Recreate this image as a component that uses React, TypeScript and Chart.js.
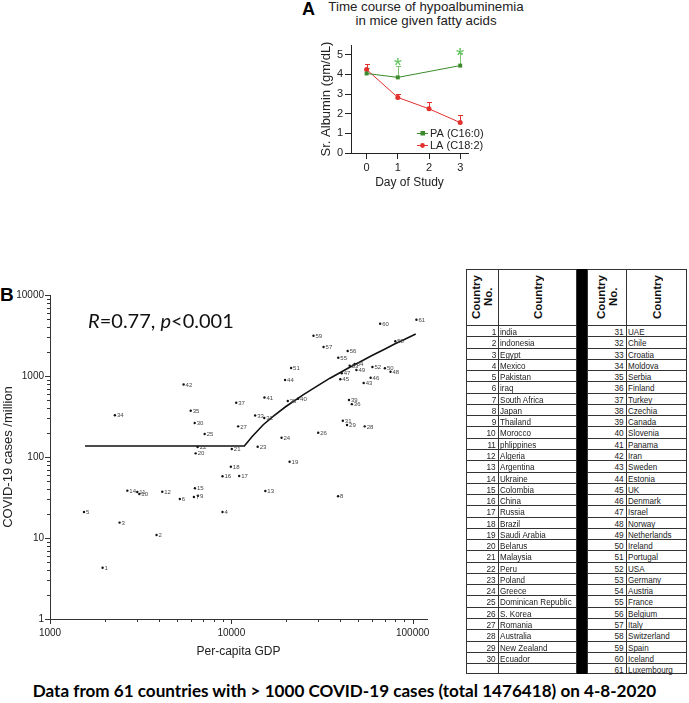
import React, { useEffect, useRef } from 'react';
import { Chart, registerables } from 'chart.js';

Chart.register(...registerables);

const SANS = "'Liberation Sans', Arial, Helvetica, sans-serif";
const CAL = "Lato, 'Open Sans', sans-serif";

// ---------- Panel A data ----------
const seriesNames = ['PA (C16:0)', 'LA (C18:2)'];
const paDays = [0, 1, 3];
const paAlbumin = [4.05, 3.85, 4.45];
const paUpper = [4.35, 4.44, 5.1];
const laDays = [0, 1, 2, 3];
const laAlbumin = [4.25, 2.83, 2.25, 1.55];
const laUpper = [4.55, 3.02, 2.58, 1.93];
const starDays = [1, 3];
const starLevels = [4.75, 5.24];
const dayTicks = [0, 1, 2, 3];
const albuminTicks = [0, 1, 2, 3, 4, 5];

// ---------- Panel B data ----------
const countryNames = [
  'india', 'indonesia', 'Egypt', 'Mexico', 'Pakistan', 'iraq', 'South Africa', 'Japan', 'Thailand', 'Morocco',
  'phlippines', 'Algeria', 'Argentina', 'Ukraine', 'Colombia', 'China', 'Russia', 'Brazil', 'Saudi Arabia', 'Belarus',
  'Malaysia', 'Peru', 'Poland', 'Greece', 'Dominican Republic', 'S. Korea', 'Romania', 'Australia', 'New Zealand', 'Ecuador',
  'UAE', 'Chile', 'Croatia', 'Moldova', 'Serbia', 'Finland', 'Turkey', 'Czechia', 'Canada', 'Slovenia',
  'Panama', 'Iran', 'Sweden', 'Estonia', 'UK', 'Denmark', 'Israel', 'Norway', 'Netherlands', 'Ireland',
  'Portugal', 'USA', 'Germany', 'Austria', 'France', 'Belgium', 'Italy', 'Switzerland', 'Spain', 'Iceland',
  'Luxembourg',
];
const gdpPerCapita = [
  1950, 3870, 2420, 8940, 1540, 5200, 6220, 38800, 6550, 3110,
  3030, 4160, 15400, 2670, 6300, 8940, 11050, 9940, 20960, 6360,
  10060, 6520, 13970, 18920, 7130, 30150, 10910, 54430, 43470, 6280,
  41210, 15200, 13530, 2280, 5970, 46200, 10640, 20480, 44570, 23350,
  15230, 5455, 53700, 19790, 39900, 58650, 40650, 75500, 48960, 70300,
  21370, 60000, 44960, 47900, 38900, 43820, 32260, 80200, 28390, 66220,
  104900,
];
const casesPerMillion = [
  4.3, 10.9, 15.5, 20.9, 20.9, 30.3, 32.1, 32.7, 33.3, 34.9,
  37, 37.3, 38, 38.4, 41.1, 57.8, 58.3, 75.9, 87.5, 111,
  125.6, 132.9, 134, 172.6, 192, 199.5, 239, 239, 248, 263,
  280, 303, 325, 327, 373, 449, 467, 491, 505, 524,
  543, 785, 820, 893, 911, 950, 1080, 1127, 1187, 1245,
  1256, 1291, 1341, 1406, 1682, 2035, 2280, 2682, 3146, 4424,
  4956,
];
const fitGdp = [1560, 11800, 13000, 15000, 17000, 20000, 25000, 30000, 35000, 45000, 50000, 60000, 70000, 80000, 90000, 104000];
const fitCases = [137, 137, 178, 250, 318, 420, 590, 760, 940, 1280, 1450, 1800, 2140, 2500, 2820, 3300];
const xMajorTicks = [1000, 10000, 100000];
const yMajorTicks = [1, 10, 100, 1000, 10000];
const statText = { r: '0.77', p: '0.001' };
const caption = 'Data from 61 countries with > 1000 COVID-19 cases (total 1476418) on 4-8-2020';

const GREEN = '#3b8a2c';
const GREEN_LIGHT = '#7dc070';
const STAR = '#5ec15a';
const RED = '#e2302c';
const AXIS = '#222';

// ---------- Panel A plugin ----------
const panelAExtras = {
  id: 'panelAExtras',
  beforeDatasetsDraw(chart: any) {
    const { ctx } = chart;
    const xs = chart.scales.x, ys = chart.scales.y;
    const draw = (days: number[], vals: number[], ups: number[], color: string) => {
      ctx.strokeStyle = color;
      ctx.lineWidth = 1;
      days.forEach((d, i) => {
        const px = Math.round(xs.getPixelForValue(d)) + 0.5;
        const p0 = ys.getPixelForValue(vals[i]);
        const p1 = Math.round(ys.getPixelForValue(ups[i])) + 0.5;
        ctx.beginPath();
        ctx.moveTo(px, p0);
        ctx.lineTo(px, p1);
        ctx.moveTo(px - 2.5, p1);
        ctx.lineTo(px + 2.5, p1);
        ctx.stroke();
      });
    };
    ctx.save();
    draw(paDays, paAlbumin, paUpper, GREEN_LIGHT);
    draw(laDays, laAlbumin, laUpper, RED);
    ctx.restore();
  },
  afterDatasetsDraw(chart: any) {
    const { ctx } = chart;
    const xs = chart.scales.x, ys = chart.scales.y;
    ctx.save();
    ctx.fillStyle = STAR;
    ctx.font = `21px ${SANS}`;
    ctx.textAlign = 'center';
    ctx.textBaseline = 'alphabetic';
    starDays.forEach((d, i) => {
      ctx.fillText('*', xs.getPixelForValue(d), ys.getPixelForValue(starLevels[i]) + 12);
    });
    // legend
    const rows = [
      { name: seriesNames[0], color: GREEN, rect: true, y: 133 },
      { name: seriesNames[1], color: RED, rect: false, y: 145 },
    ];
    ctx.font = `11px ${SANS}`;
    ctx.textAlign = 'left';
    ctx.textBaseline = 'middle';
    rows.forEach((r) => {
      const x0 = 117;
      ctx.strokeStyle = r.color;
      ctx.lineWidth = 1;
      ctx.beginPath();
      ctx.moveTo(x0, r.y + 0.5);
      ctx.lineTo(x0 + 11, r.y + 0.5);
      ctx.stroke();
      ctx.fillStyle = r.color;
      if (r.rect) ctx.fillRect(x0 + 3.5, r.y - 2, 4.5, 4.5);
      else {
        ctx.beginPath();
        ctx.arc(x0 + 5.5, r.y + 0.5, 2.4, 0, Math.PI * 2);
        ctx.fill();
      }
      ctx.fillStyle = '#222';
      ctx.fillText(r.name, x0 + 13, r.y + 1);
    });
    ctx.restore();
  },
};

// ---------- Panel B plugin ----------
const panelBExtras = {
  id: 'panelBExtras',
  afterDatasetsDraw(chart: any) {
    const { ctx } = chart;
    const meta = chart.getDatasetMeta(0);
    ctx.save();
    ctx.font = `6px ${SANS}`;
    ctx.fillStyle = '#444';
    ctx.textAlign = 'left';
    ctx.textBaseline = 'middle';
    meta.data.forEach((pt: any, i: number) => {
      ctx.fillText(String(i + 1), pt.x + 2, pt.y + 0.5);
    });
    ctx.restore();
  },
  afterDraw(chart: any) {
    const { ctx, chartArea: a } = chart;
    const xs = chart.scales.x, ys = chart.scales.y;
    ctx.save();
    ctx.strokeStyle = '#333';
    ctx.lineWidth = 1;
    ctx.beginPath();
    yMajorTicks.forEach((d, k) => {
      const py = Math.round(ys.getPixelForValue(d)) + 0.5;
      ctx.moveTo(a.left - 5, py);
      ctx.lineTo(a.left, py);
      if (k < yMajorTicks.length - 1) {
        for (let m = 2; m <= 9; m++) {
          const p = Math.round(ys.getPixelForValue(m * d)) + 0.5;
          ctx.moveTo(a.left - 3, p);
          ctx.lineTo(a.left, p);
        }
      }
    });
    xMajorTicks.forEach((d, k) => {
      const px = Math.round(xs.getPixelForValue(d)) + 0.5;
      ctx.moveTo(px, a.bottom);
      ctx.lineTo(px, a.bottom + 5);
      if (k < xMajorTicks.length - 1) {
        for (let m = 2; m <= 9; m++) {
          const p = Math.round(xs.getPixelForValue(m * d)) + 0.5;
          ctx.moveTo(p, a.bottom);
          ctx.lineTo(p, a.bottom + 3);
        }
      }
    });
    ctx.stroke();
    ctx.restore();
  },
};

function PanelA() {
  const ref = useRef<HTMLCanvasElement>(null);
  useEffect(() => {
    const chart = new Chart(ref.current as HTMLCanvasElement, {
      type: 'scatter',
      data: {
        datasets: [
          {
            label: seriesNames[0],
            data: paDays.map((d, i) => ({ x: d, y: paAlbumin[i] })),
            showLine: true,
            borderColor: GREEN,
            backgroundColor: GREEN,
            borderWidth: 1,
            pointStyle: 'rect',
            pointRadius: 2.8,
            pointBorderWidth: 0,
          },
          {
            label: seriesNames[1],
            data: laDays.map((d, i) => ({ x: d, y: laAlbumin[i] })),
            showLine: true,
            borderColor: RED,
            backgroundColor: RED,
            borderWidth: 1,
            pointStyle: 'circle',
            pointRadius: 2.5,
            pointBorderWidth: 0,
          },
        ],
      } as any,
      options: {
        animation: false,
        responsive: false,
        devicePixelRatio: 1,
        layout: { padding: { top: 45, right: 32, left: 0, bottom: 0 } },
        plugins: { legend: { display: false }, tooltip: { enabled: false } },
        scales: {
          x: {
            type: 'linear',
            min: -0.5,
            max: 3.25,
            afterBuildTicks: (s: any) => { s.ticks = dayTicks.map((v) => ({ value: v })); },
            afterFit: (s: any) => { s.height = 42; },
            grid: { display: true, drawOnChartArea: false, drawTicks: true, tickLength: 6, color: AXIS },
            border: { color: AXIS, width: 1 },
            ticks: { font: { size: 11, family: SANS }, color: '#222', padding: 2, maxRotation: 0 },
            title: { display: true, text: 'Day of Study', font: { size: 12, family: SANS }, color: '#222', padding: { top: 0, bottom: 5 } },
          },
          y: {
            type: 'linear',
            min: 0,
            max: 5.5,
            afterBuildTicks: (s: any) => { s.ticks = albuminTicks.map((v) => ({ value: v })); },
            afterFit: (s: any) => { s.width = 51; },
            grid: { display: true, drawOnChartArea: false, drawTicks: true, tickLength: 6, color: AXIS },
            border: { color: AXIS, width: 1 },
            ticks: { font: { size: 11, family: SANS }, color: '#222', padding: 2 },
            title: { display: true, text: 'Sr. Albumin (gm/dL)', font: { size: 13, family: SANS }, color: '#222', padding: { top: 19, bottom: 0 } },
          },
        },
      } as any,
      plugins: [panelAExtras],
    });
    return () => chart.destroy();
  }, []);
  return (
    <canvas ref={ref} width={200} height={195}
      style={{ position: 'absolute', left: 300, top: 0, width: 200, height: 195 }} />
  );
}

function PanelB() {
  const ref = useRef<HTMLCanvasElement>(null);
  useEffect(() => {
    const chart = new Chart(ref.current as HTMLCanvasElement, {
      type: 'scatter',
      data: {
        datasets: [
          {
            data: gdpPerCapita.map((g, i) => ({ x: g, y: casesPerMillion[i] })),
            pointRadius: 1.2,
            pointBorderWidth: 0,
            backgroundColor: '#111',
            borderColor: '#111',
          },
          {
            data: fitGdp.map((g, i) => ({ x: g, y: fitCases[i] })),
            showLine: true,
            pointRadius: 0,
            borderColor: '#111',
            borderWidth: 1.6,
            fill: false,
          },
        ],
      } as any,
      options: {
        animation: false,
        responsive: false,
        devicePixelRatio: 1,
        layout: { padding: { top: 15, right: 13, left: 0, bottom: 0 } },
        plugins: { legend: { display: false }, tooltip: { enabled: false } },
        scales: {
          x: {
            type: 'logarithmic',
            min: 1000,
            max: 120000,
            afterBuildTicks: (s: any) => { s.ticks = xMajorTicks.map((v) => ({ value: v })); },
            afterFit: (s: any) => { s.height = 51; },
            grid: { display: false, drawTicks: false },
            border: { display: true, color: '#333', width: 1 },
            ticks: { font: { size: 10, family: SANS }, color: '#222', padding: 8, maxRotation: 0, callback: (v: any) => String(v) },
            title: { display: true, text: 'Per-capita GDP', font: { size: 12, family: SANS }, color: '#222', padding: { top: 0, bottom: 11 } },
          },
          y: {
            type: 'logarithmic',
            min: 1,
            max: 10000,
            afterBuildTicks: (s: any) => { s.ticks = yMajorTicks.map((v) => ({ value: v })); },
            afterFit: (s: any) => { s.width = 50; },
            grid: { display: false, drawTicks: false },
            border: { display: true, color: '#333', width: 1 },
            ticks: { font: { size: 10, family: SANS }, color: '#222', padding: 6, callback: (v: any) => String(v) },
            title: { display: true, text: 'COVID-19 cases /million', font: { size: 13, family: SANS }, color: '#222', padding: { top: 1, bottom: 0 } },
          },
        },
      } as any,
      plugins: [panelBExtras],
    });
    return () => chart.destroy();
  }, []);
  return (
    <canvas ref={ref} width={440} height={390}
      style={{ position: 'absolute', left: 0, top: 280, width: 440, height: 390 }} />
  );
}

function CountryTable() {
  const top = 269;
  const left = 466;
  const headH = 56;
  const rowH = 11.27;
  const nRows = 31;
  const totalH = headH + nRows * rowH;
  const halves = [
    { x: 0, wNo: 32, wName: 79, start: 0, count: 30 },
    { x: 121, wNo: 39, wName: 61, start: 30, count: 31 },
  ];
  const line = '#333';
  const cellText = { fontSize: 9.6, fontFamily: SANS, color: '#222' };
  const els: any[] = [];
  halves.forEach((h, hi) => {
    const w = h.wNo + h.wName;
    els.push(<div key={`box${hi}`} style={{ position: 'absolute', left: h.x, top: 0, width: w, height: totalH, border: `1px solid ${line}`, boxSizing: 'border-box' }} />);
    els.push(<div key={`vd${hi}`} style={{ position: 'absolute', left: h.x + h.wNo, top: 0, width: 1, height: totalH, background: line }} />);
    for (let k = 0; k < nRows; k++) {
      const y = Math.round(headH + k * rowH);
      els.push(<div key={`hl${hi}-${k}`} style={{ position: 'absolute', left: h.x, top: y, width: w, height: 1, background: line }} />);
    }
    const hdr = (key: string, x: number, wd: number, lines: string[]) => (
      <div key={key} style={{ position: 'absolute', left: x, top: 0, width: wd, height: headH, display: 'flex', alignItems: 'center', justifyContent: 'center' }}>
        <div style={{ writingMode: 'vertical-rl', transform: 'rotate(180deg)', fontWeight: 'bold', fontSize: 11.5, lineHeight: '12px', fontFamily: SANS, color: '#111', whiteSpace: 'pre', textAlign: 'center' }}>
          {lines.join('\n')}
        </div>
      </div>
    );
    els.push(hdr(`hn${hi}`, h.x, h.wNo, ['Country', 'No.']));
    els.push(hdr(`hc${hi}`, h.x + h.wNo, h.wName, ['Country']));
    for (let k = 0; k < h.count; k++) {
      const idx = h.start + k;
      const y = headH + k * rowH;
      els.push(
        <div key={`no${idx}`} style={{ position: 'absolute', left: h.x, top: y + 1, width: h.wNo - 2, height: rowH, lineHeight: `${rowH}px`, textAlign: 'right', ...cellText }}>
          <span style={{ display: 'inline-block', transform: 'scaleX(0.86)', transformOrigin: 'right center' }}>{idx + 1}</span>
        </div>
      );
      els.push(
        <div key={`nm${idx}`} style={{ position: 'absolute', left: h.x + h.wNo + 2, top: y + 1, width: h.wName - 3, height: rowH, lineHeight: `${rowH}px`, textAlign: 'left', whiteSpace: 'nowrap', ...cellText }}>
          <span style={{ display: 'inline-block', transform: 'scaleX(0.84)', transformOrigin: 'left center' }}>{countryNames[idx]}</span>
        </div>
      );
    }
  });
  els.push(<div key="bar" style={{ position: 'absolute', left: 111, top: 0, width: 10, height: totalH, background: '#000' }} />);
  return (
    <div style={{ position: 'absolute', left, top, width: 222, height: totalH }}>
      {els}
    </div>
  );
}

export default function App() {
  return (
    <div style={{ position: 'absolute', left: 0, top: 0, width: 689, height: 703, overflow: 'hidden', background: '#fff', fontFamily: SANS }}>
      <div style={{ position: 'absolute', left: 302, top: -1, fontSize: 18, fontWeight: 'bold', fontFamily: SANS, color: '#000' }}>A</div>
      <div style={{ position: 'absolute', left: 316, top: 0, width: 220, textAlign: 'center', fontSize: 13.3, lineHeight: '13.5px', fontFamily: SANS, color: '#222', whiteSpace: 'nowrap' }}>
        Time course of hypoalbuminemia<br />in mice given fatty acids
      </div>
      <PanelA />
      <div style={{ position: 'absolute', left: 0, top: 284, fontSize: 19, fontWeight: 'bold', fontFamily: SANS, color: '#000' }}>B</div>
      <PanelB />
      <div style={{ position: 'absolute', left: 88, top: 308, fontSize: 20, fontFamily: CAL, color: '#111', whiteSpace: 'nowrap' }}>
        <i>R</i>={statText.r}, <i>p</i>&lt;{statText.p}
      </div>
      <CountryTable />
      <div style={{ position: 'absolute', left: 0, top: 681, width: 689, textAlign: 'center', fontSize: 17.1, lineHeight: '20px', fontWeight: 'bold', fontFamily: CAL, color: '#000', whiteSpace: 'nowrap' }}>
        {caption}
      </div>
    </div>
  );
}
